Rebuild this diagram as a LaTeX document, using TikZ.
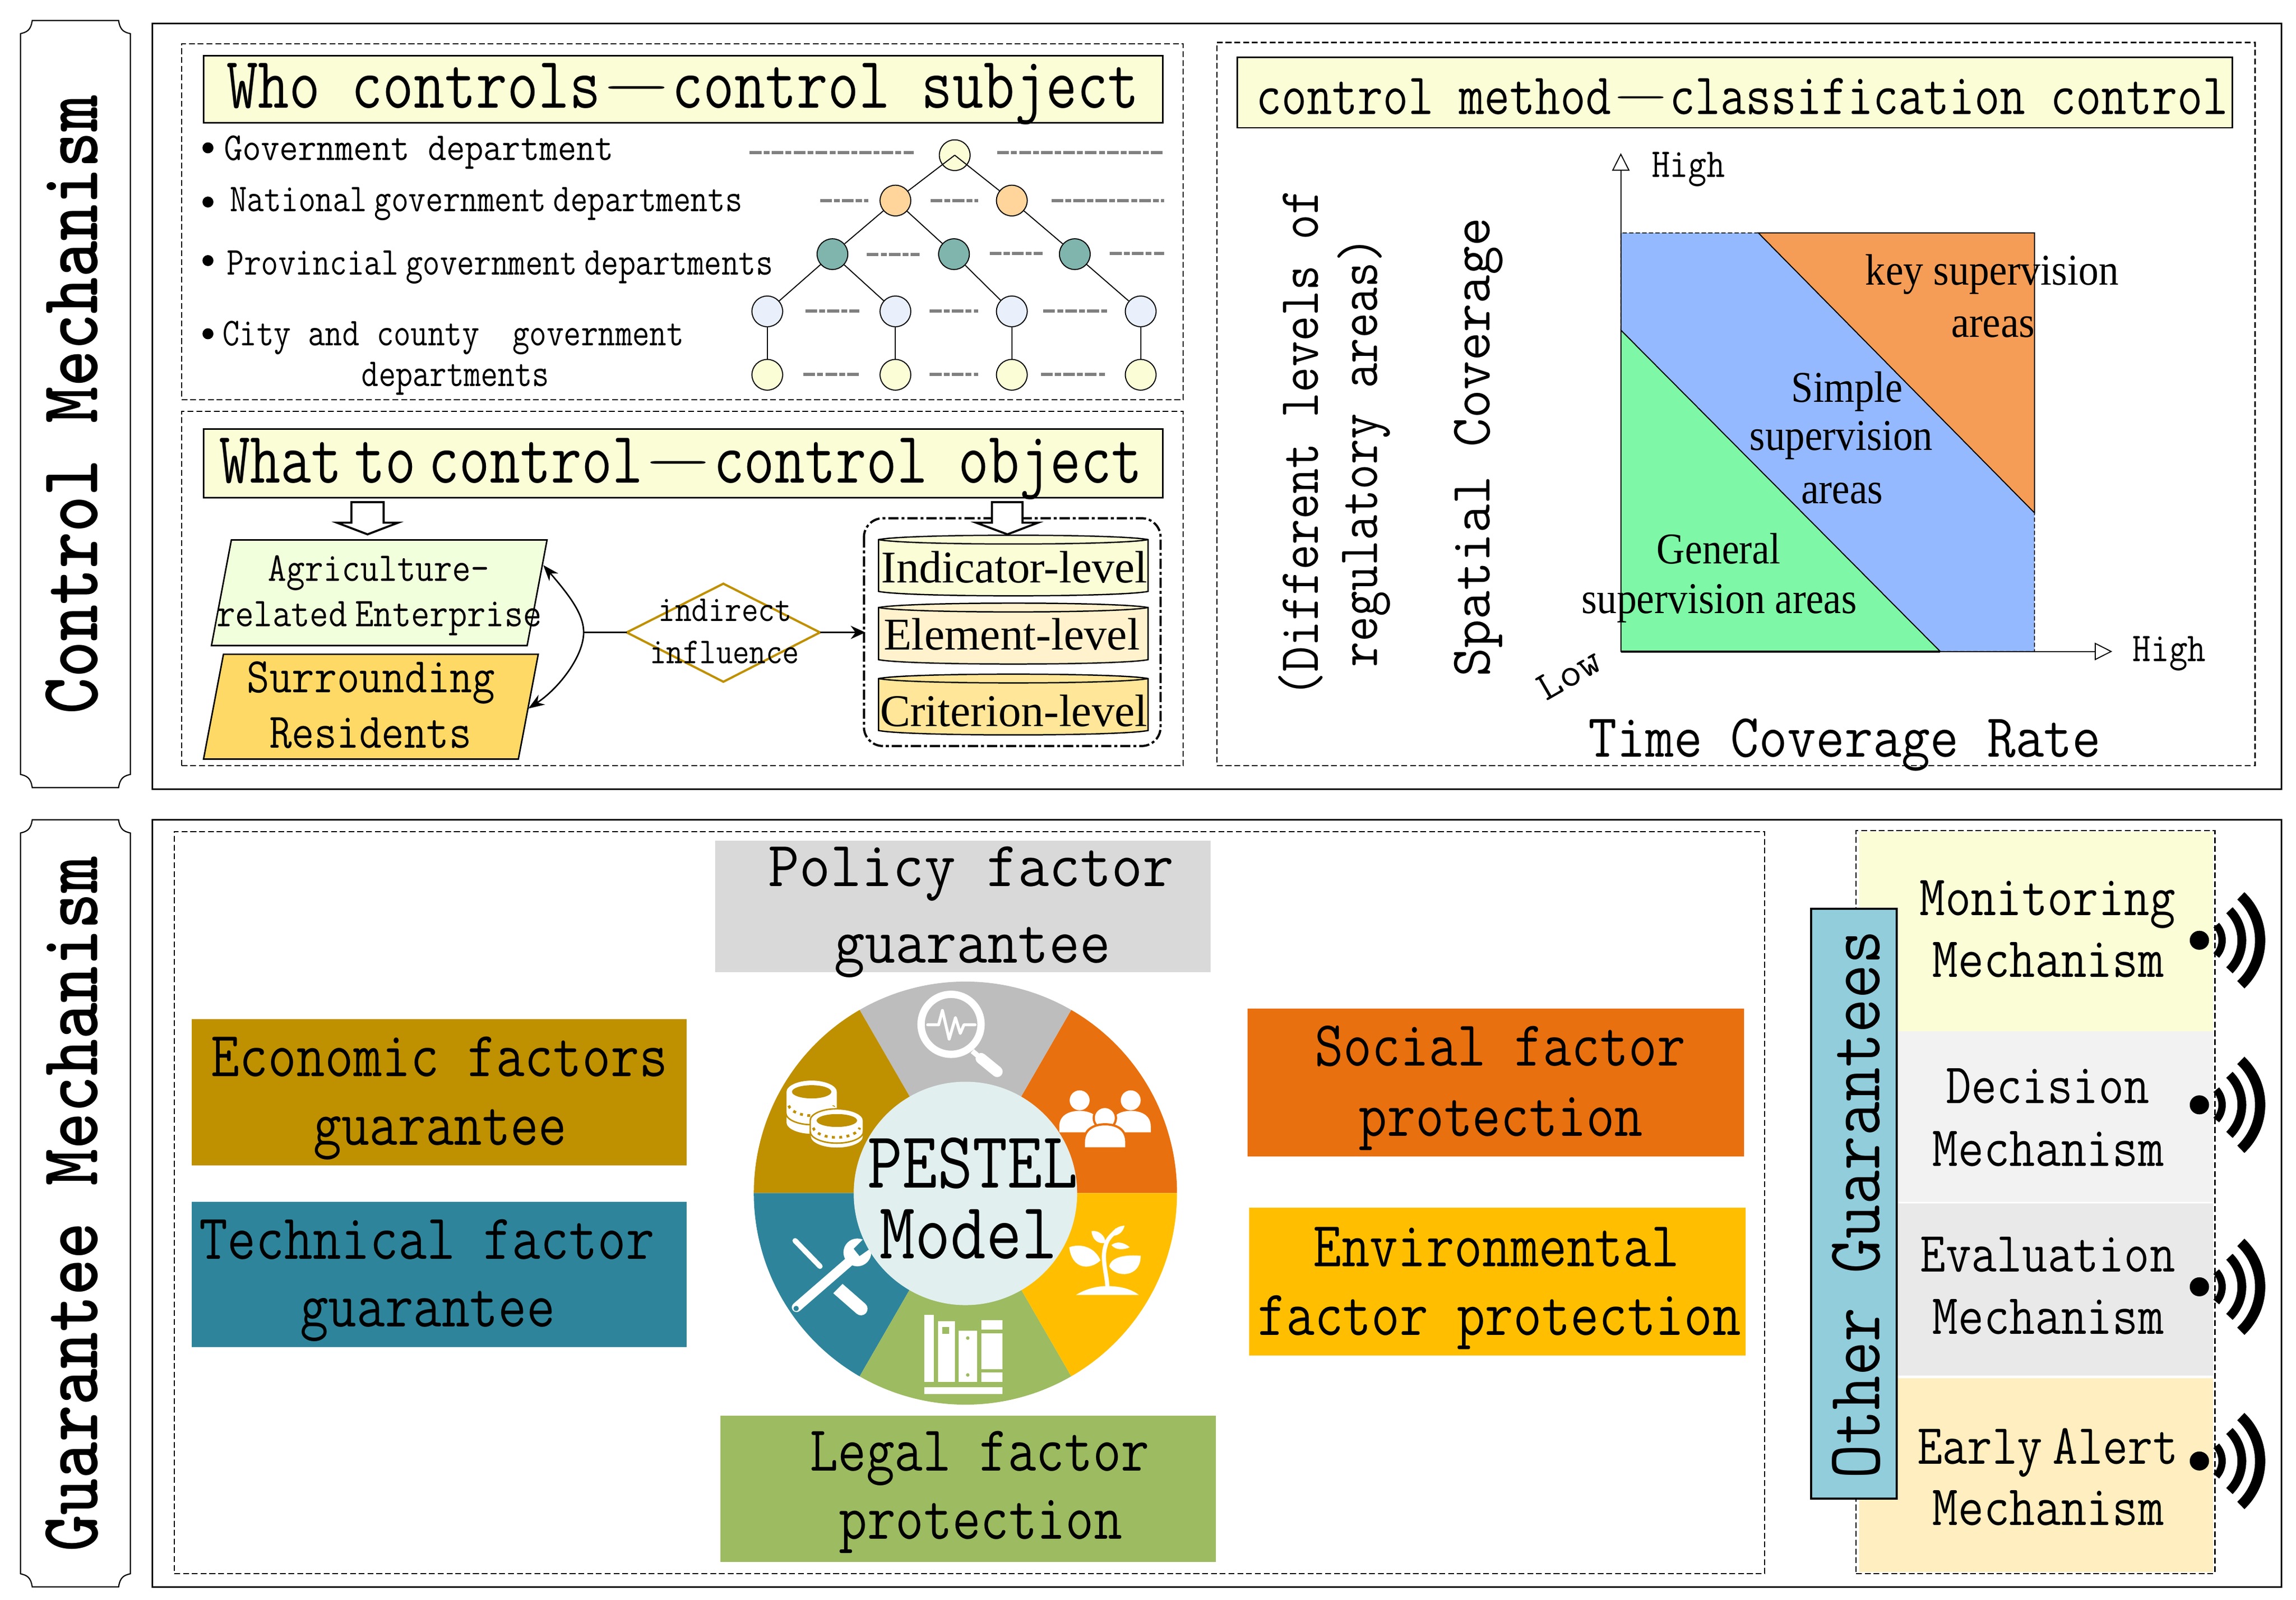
\documentclass[tikz,border=0pt]{standalone}
\usepackage{graphicx}
\usepackage{fontspec}
\newfontfamily\tms{Liberation Serif}
\usetikzlibrary{fit,arrows.meta}
\definecolor{ttl}{HTML}{FBFDD7}
\definecolor{gold}{HTML}{BF9000}
\definecolor{teal2}{HTML}{2E859B}
\definecolor{orng}{HTML}{E9700E}
\definecolor{yel}{HTML}{FFBF00}
\definecolor{grn}{HTML}{9DBB61}
\definecolor{gry}{HTML}{BDBDBD}
\definecolor{inner}{HTML}{E2EFEF}
\definecolor{pgray}{HTML}{D9D9D9}
\definecolor{band2}{HTML}{F2F2F2}
\definecolor{band3}{HTML}{E9E9E9}
\definecolor{band4}{HTML}{FFEEBF}
\definecolor{ogbox}{HTML}{92CDDC}
\definecolor{c2}{HTML}{FFF2CC}
\definecolor{c3}{HTML}{FFE699}
\definecolor{korg}{HTML}{F59D56}
\definecolor{kblu}{HTML}{95B9FF}
\definecolor{kgrn}{HTML}{7EF8A6}
\newcommand\tw[3]{{\fontsize{#2}{#2}\selectfont\resizebox{#1pt}{\height}{\vphantom{Apg}#3}}}
\newcommand\Tx[7][]{\node[lbl,#1] (#2) at (#3,#4) {\tw{#5}{#6}{#7}};}
\newcommand\Bx[6]{\node[fit={(#3,#4)(#5,#6)},inner sep=0pt,#2] (#1) {};}
\newcommand\nsp{\kern-.3em}
\newcommand\lng{\raisebox{.11em}{\scalebox{2.3}[.55]{—}}}
\tikzset{
  lbl/.style={inner sep=0pt,font=\ttfamily},
  tim/.style={inner sep=0pt,font=\tms},
  frame/.style={draw=black,line width=1pt},
  dbox/.style={draw=black,line width=.8pt,dash pattern=on 4pt off 2pt},
  title/.style={draw=black,line width=1pt,fill=ttl},
  treen/.style={circle,draw=black,line width=.7pt,minimum size=21pt,inner sep=0pt},
  link/.style={draw=black,line width=.7pt},
  gdash/.style={draw=black!50,line width=2.2pt,dash pattern=on 8pt off 1.5pt on 4pt off 1.5pt},
  para/.style={draw=black,line width=1pt},
  hollow/.style={draw=black,line width=1.4pt,fill=white,line join=miter},
  cyl/.style={draw=black,line width=.9pt},
  arcs/.style={draw=black},
  axisl/.style={draw=black,line width=.7pt,-{Triangle[open,fill=white,length=12pt,width=12pt]}},
  ico/.style={fill=white,draw=none},
  flat/.style={draw=none}
}
\newcommand\plaque[4]{\draw[black,line width=.8pt,fill=white] (#1+8,#2) -- (#3-8,#2) .. controls (#3-7,#2+7) and (#3-4,#2+8) .. (#3,#2+9) -- (#3,#4-9) .. controls (#3-4,#4-8) and (#3-7,#4-7) .. (#3-8,#4) -- (#1+8,#4) .. controls (#1+7,#4-7) and (#1+4,#4-8) .. (#1,#4-9) -- (#1,#2+9) .. controls (#1+4,#2+8) and (#1+7,#2+7) .. (#1+8,#2) -- cycle;}
\newcommand\cylshape[3]{% ytop ybot fill
  \path[cyl,fill=#3] (600,#1+3) -- (600,#2-3) .. controls (620,#2+1) and (764,#2+1) .. (784,#2-3) -- (784,#1+3) .. controls (764,#1-1) and (620,#1-1) .. (600,#1+3) -- cycle;
  \path[cyl] (600,#1+3) .. controls (620,#1+7) and (764,#1+7) .. (784,#1+3);}
\newcommand\Sec[3]{\fill[#1] (659.3,815) -- ++(#2:144.5) arc[start angle=#2,end angle=#3,radius=144.5] -- cycle;}
\newcommand\dome[5][]{\path[fill=white,#1] ({#2-#3},#5) -- ({#2-#3},{#5-4}) .. controls ({#2-#3},{#4+2}) and ({#2-.4*#3},#4) .. (#2,#4) .. controls ({#2+.4*#3},#4) and ({#2+#3},{#4+2}) .. ({#2+#3},{#5-4}) -- ({#2+#3},#5) -- cycle;}
\newcommand\coins[5]{%
  \path[fill=white,draw=gold,line width=1pt] ({#1-#3},#2) -- ({#1-#3},{#2+#5}) arc[start angle=180,end angle=0,x radius=#3,y radius=#4] -- ({#1+#3},#2) arc[start angle=0,end angle=-180,x radius=#3,y radius=#4] -- cycle;
  \fill[gold] (#1,#2) ellipse[x radius={.76*#3},y radius={.55*#4}];
  \draw[gold,line width=1.8pt,dash pattern=on 2pt off 3pt] ({#1-#3+2},{#2+.45*#5}) arc[start angle=170,end angle=10,x radius={#3-2},y radius=#4];
  \draw[gold,line width=1pt] ({#1-#3},{#2+.68*#5}) arc[start angle=180,end angle=0,x radius=#3,y radius=#4];}
\newcommand\signal[1]{%
  \fill[black] (1502,#1) ellipse[x radius=6.6,y radius=6.5];
  \draw[arcs,line width=5pt] (1502,#1) ++(-42:15.5) arc[start angle=-42,end angle=42,radius=15.5];
  \draw[arcs,line width=6pt] (1502,#1) ++(-45:29) arc[start angle=-45,end angle=45,radius=29];
  \draw[arcs,line width=7pt] (1502,#1) ++(-47:41.5) arc[start angle=-47,end angle=47,radius=41.5];}
\begin{document}
\begin{tikzpicture}[x=1pt,y=-1pt]
\useasboundingbox (0,0) rectangle (1568,1092.6);
\fill[white] (0,0) rectangle (1568,1092.6);

% side plaques and frames
\plaque{14}{14}{89}{538}
\plaque{14}{560}{89}{1084}
\Tx[rotate=90,font=\ttfamily\bfseries]{sideA}{55}{276.5}{423}{57}{Control Mechanism}
\Tx[rotate=90,font=\ttfamily\bfseries]{sideB}{55}{822.5}{475}{57}{Guarantee Mechanism}
\Bx{frameA}{frame}{104}{16}{1558}{539}
\Bx{frameB}{frame}{104}{560}{1558}{1084}

% dashed groups
\Bx{grpA}{dbox}{124}{30}{808}{273}
\Bx{grpB}{dbox}{124}{281}{808}{523}
\Bx{grpC}{dbox}{831}{29}{1540}{523}
\Bx{grpD}{dbox}{119}{568}{1205}{1075}

% ---- who controls
\Bx{ttlA}{title}{139}{38}{794}{84}
\Tx{ttlAt}{466.5}{64}{623}{50}{Who controls\lng control subject}
\foreach \n/\y in {b1/101,b2/138,b3/178,b4/228}{\node[circle,fill=black,minimum size=7.5pt,inner sep=0pt] (\n) at (142,\y) {};}
\Tx{lv1}{286}{104.2}{266}{27}{Government department}
\Tx{lv2}{332}{139.2}{350}{27}{National\nsp{} government\nsp{} departments}
\Tx{lv3}{341.5}{182.3}{373}{27}{Provincial\nsp{} government\nsp{} departments}
\Tx{lv4a}{309.5}{230.8}{315}{27}{City and county\kern1em government}
\Tx{lv4b}{311}{258.6}{128}{27}{departments}

\foreach \a/\b/\y in {512/624/104.3,681/795/104.3,560/593/137,635.5/668/137,718/795/137,592/628/174,676/712/173,758/795/173,550/587/212.5,635/668/212.5,712.5/757/212.5,548.6/587/255.8,635/668/255.8,711/755/255.8}{
  \draw[gdash] (\a,\y) -- (\b,\y);}

\node[treen,fill=ttl] (r1) at (652,106) {};
\foreach \n/\x in {r2a/611.5,r2b/691}{\node[treen,fill={rgb,255:red,255;green,213;blue,155}] (\n) at (\x,137) {};}
\foreach \n/\x in {r3a/568.5,r3b/651.5,r3c/734}{\node[treen,fill={rgb,255:red,127;green,181;blue,173}] (\n) at (\x,173.6) {};}
\foreach \n/\x in {r4a/524,r4b/611.5,r4c/691,r4d/779}{\node[treen,fill={rgb,255:red,233;green,240;blue,251}] (\n) at (\x,212.7) {};}
\foreach \n/\x in {r5a/524,r5b/611.5,r5c/691,r5d/779}{\node[treen,fill=ttl] (\n) at (\x,256) {};}
\draw[link] (r1.center) -- (r2a);
\draw[link] (r1.center) -- (r2b);
\draw[link] (r2a) -- (r3a);
\draw[link] (r2a) -- (r3b);
\draw[link] (r2b) -- (r3c);
\draw[link] (r3a) -- (r4a);
\draw[link] (r3a) -- (r4b);
\draw[link] (r3b) -- (r4c);
\draw[link] (r3c) -- (r4d);
\draw[link] (r4a) -- (r5a);
\draw[link] (r4b) -- (r5b);
\draw[link] (r4c) -- (r5c);
\draw[link] (r4d) -- (r5d);

% ---- what to control
\Bx{ttlB}{title}{139}{293}{794}{340}
\Tx{ttlBt}{465}{320}{630}{50}{What\nsp{} to\nsp{} control\lng control object}

\draw[black,line width=1.5pt,dash pattern=on 7pt off 2pt on 2pt off 2pt,rounded corners=13pt] (590,354) rectangle (792.6,509.6);

\path[para,fill={rgb,255:red,242;green,255;blue,220}] (158,368.8) -- (373.6,368.8) -- (360,441) -- (144.4,441) -- cycle;
\path[para,fill={rgb,255:red,255;green,217;blue,102}] (152.6,446.9) -- (367.6,446.9) -- (354,518.5) -- (139,518.5) -- cycle;
\Tx{ag1}{258.7}{391.5}{151}{28}{Agriculture-}
\Tx{ag2}{259}{422.4}{222}{28}{related\nsp{} Enterprise}
\Tx{sr1}{253.3}{466.4}{169.5}{34}{Surrounding}
\Tx{sr2}{253}{504.2}{138}{34}{Residents}

\path[hollow] (240,343) -- (262,343) -- (262,357) -- (272,357) -- (251,365) -- (230,357) -- (240,357) -- cycle;
\path[hollow] (677.4,343) -- (698.3,343) -- (698.3,357) -- (709,357) -- (688,365) -- (666.5,357) -- (677.4,357) -- cycle;

\cylshape{365.6}{407}{ttl}
\cylshape{412}{453.6}{c2}
\cylshape{460.5}{502}{c3}
\Tx[tim]{cy1}{692.7}{390.8}{181.5}{31}{Indicator-level}
\Tx[tim]{cy2}{691}{436.4}{175}{31}{Element-level}
\Tx[tim]{cy3}{692.2}{488.6}{182.5}{31}{Criterion-level}

\coordinate (pa) at (371,386);
\coordinate (pb) at (360.8,484);
\coordinate (bend) at (398.6,432);
\draw[black,line width=1pt,{Stealth[length=11pt,width=8pt]}-{Stealth[length=11pt,width=8pt]}] (pa) .. controls (390,408) and (398.6,420) .. (bend) .. controls (398.6,448) and (382,470) .. (pb);
\coordinate (dl) at (428,432);
\coordinate (dr) at (560,432);
\coordinate (dt) at (494,398.7);
\coordinate (db) at (494,465.7);
\coordinate (gb) at (591,432);
\draw[gold,line width=1.5pt] (dl) -- (dt) -- (dr) -- (db) -- cycle;
\draw[black,line width=1.3pt] (bend) -- (dl);
\draw[black,line width=1.3pt,-{Stealth[length=10pt,width=9pt]}] (dr) -- (gb);
\Tx{in1}{495.2}{419.4}{91}{25}{indirect}
\Tx{in2}{494.8}{448.4}{102}{25}{influence}

% ---- classification
\Bx{ttlC}{title}{845}{39.2}{1524.5}{87.3}
\Tx{ttlCt}{1189.8}{70}{664}{40}{control method\lng classification control}
\Tx[rotate=90]{r1t}{891}{302.7}{347}{39}{(Different levels of}
\Tx[rotate=90]{r2t}{931.4}{308.7}{294}{39}{regulatory areas)}
\Tx[rotate=90]{r3t}{1009.6}{305.5}{313.6}{39}{Spatial Coverage}

\path[fill=kblu,draw=black,line width=.6pt,dash pattern=on 3pt off 1.5pt] (1106.9,225.5) -- (1106.9,159.1) -- (1200.8,159.1) -- (1389.4,350.3) -- (1389.4,445) -- (1325,445) -- cycle;
\path[fill=korg,draw=black,line width=.7pt] (1200.8,159.1) -- (1389.4,159.1) -- (1389.4,350.3) -- cycle;
\path[fill=kgrn,draw=black,line width=.7pt] (1106.9,225.5) -- (1325,445) -- (1106.9,445) -- cycle;
\coordinate (org) at (1106.9,445);
\coordinate (ytip) at (1106.9,104.6);
\coordinate (xtip) at (1442.5,445);
\draw[axisl] (org) -- (ytip);
\draw[axisl] (org) -- (xtip);
\draw[black,line width=1.4pt] (org) -- (1325,445);
\Tx{hiY}{1153}{115.4}{50}{28}{High}
\Tx{hiX}{1481.5}{446.4}{50}{28}{High}
\Tx[rotate=30]{lowt}{1073}{463}{46}{28}{Low}
\Tx{tcr}{1259.8}{508.7}{350}{42}{Time Coverage Rate}
\Tx[tim]{k1}{1360.5}{187.5}{173}{30}{key supervision}
\Tx[tim]{k2}{1361}{223.5}{57}{30}{areas}
\Tx[tim]{s1}{1261.4}{267.6}{76}{30}{Simple}
\Tx[tim]{s2}{1257.5}{300.9}{125}{30}{supervision}
\Tx[tim]{s3}{1258}{337.1}{56}{30}{areas}
\Tx[tim]{g1}{1173.7}{377.7}{84.5}{30}{General}
\Tx[tim]{g2}{1174}{412.1}{188}{30}{supervision areas}

% ---- PESTEL boxes
\Bx{pol}{flat,fill=pgray}{488.5}{574.2}{826.9}{664}
\Bx{leg}{flat,fill=grn}{492}{967}{830.4}{1067}
\Bx{eco}{flat,fill=gold}{131}{696}{469}{796}
\Bx{tec}{flat,fill=teal2}{131}{821}{469}{920}
\Bx{soc}{flat,fill=orng}{852}{689}{1191}{790}
\Bx{env}{flat,fill=yel}{853}{825}{1192}{926}
\Tx{polt1}{663.2}{596.7}{277}{44}{Policy factor}
\Tx{polt2}{664}{648.9}{188.6}{44}{guarantee}
\Tx{legt1}{669}{995.9}{232}{44}{Legal factor}
\Tx{legt2}{669.7}{1042.6}{193.4}{44}{protection}
\Tx{ecot1}{300}{726.4}{312}{44}{Economic factors}
\Tx{ecot2}{300.5}{773.4}{173}{44}{guarantee}
\Tx{tect1}{291.5}{851.4}{311}{44}{Technical factor}
\Tx{tect2}{292}{897.4}{174}{44}{guarantee}
\Tx{soct1}{1024.5}{719.4}{253}{44}{Social factor}
\Tx{soct2}{1025}{767.4}{194}{44}{protection}
\Tx{envt1}{1022}{856.4}{250}{44}{Environmental}
\Tx{envt2}{1024}{903.4}{330}{44}{factor protection}

% ---- wheel
\Sec{orng}{0}{-60}
\Sec{gry}{-60}{-120}
\Sec{gold}{-120}{-180}
\Sec{teal2}{-180}{-240}
\Sec{grn}{-240}{-300}
\Sec{yel}{-300}{-360}

% magnifier
\draw[white,line width=5pt] (649.5,699.7) circle[radius=20.5];
\draw[white,line width=3.5pt] (664,718) -- (670,723);
\draw[white,line width=7.5pt,line cap=round] (670,723) -- (681,732);
\draw[white,line width=2pt,line join=round,line cap=round] (633.5,700) -- (641,700) -- (643.6,690.2) -- (648.2,709.8) -- (652.5,695.1) -- (655.8,705.9) -- (658.3,700) -- (665.9,700);
% people
\fill[white] (737.3,751.6) circle[radius=6.8];
\fill[white] (772.2,751.6) circle[radius=6.8];
\dome{737.2}{13.8}{758.8}{773.5}
\dome{772.3}{13.6}{758.8}{773.5}
\path[fill=white,draw=orng,line width=1.5pt] (754.5,763.7) circle[radius=7.6];
\dome[draw=orng,line width=1.5pt]{754.7}{14.5}{768}{784.4}
% coins
\coins{554.3}{745.8}{17.7}{8.2}{21}
\coins{571.5}{765.4}{18.2}{8}{11}
% tools
\draw[white,line width=3.6pt,line cap=round] (543,847.5) -- (560,865);
\draw[white,line width=9pt,line cap=round] (572,880) -- (588,894);
\draw[teal2,line width=9pt] (560,886) -- (576,870);
\draw[white,line width=6.5pt,line cap=round] (544,893) -- (582,860);
\fill[white] (585.5,855.5) circle[radius=9.5];
\fill[teal2] (590,846) -- (597,851) -- (587,858) -- (583,853) -- cycle;
\fill[teal2] (543.7,893.8) circle[radius=1.8];
% sprout
\fill[white] (734.8,884.6) .. controls (742,880) and (750,878.5) .. (756,878.5) .. controls (764,878.5) and (772,880) .. (777.8,884.6) -- cycle;
\draw[white,line width=2.8pt] (756.3,880) .. controls (756,870) and (752,860) .. (755,851) .. controls (756,846) and (760,843) .. (763,840);
\fill[white] (730.2,852) .. controls (738,849) and (748,852) .. (751.5,861) .. controls (744,868) and (732,867) .. (730.2,852) -- cycle;
\fill[white] (779,857.8) .. controls (770,857) and (759,858) .. (757.5,865) .. controls (762,873) and (779,873) .. (779,857.8) -- cycle;
\fill[white] (745.4,841) .. controls (750,840) and (755,844) .. (755,849) .. controls (750,850) and (746,847) .. (745.4,841) -- cycle;
\fill[white] (771.5,852) .. controls (767,848) and (762,848) .. (759,850.5) .. controls (762,854) and (767,854) .. (771.5,852) -- cycle;
\fill[white] (768,837.2) .. controls (763,837.5) and (760,840) .. (759.5,844) .. controls (763,844.5) and (767,842) .. (768,837.2) -- cycle;
% books
\fill[white] (631.2,947.6) rectangle (684.6,952.2);
\fill[white] (631.2,898.3) rectangle (637.8,944);
\fill[white] (640.6,902.6) rectangle (652.2,944);
\fill[grn] (643.6,906.5) rectangle (648.2,911.1);
\fill[white] (654.5,909.1) rectangle (667.4,944);
\fill[grn] (660.9,914) circle[radius=1.2];
\fill[grn] (660.9,939.2) circle[radius=1.2];
\fill[white] (670.2,901.6) rectangle (684.6,944);
\fill[grn] (670.2,908.4) rectangle (684.6,910.8);
\fill[grn] (670.2,935.2) rectangle (684.6,937.5);

\node[circle,fill=inner,minimum size=152.6pt,inner sep=0pt] (hub) at (659.3,815.2) {};
\Tx{hub1}{664.2}{800.4}{143.5}{55}{PESTEL}
\Tx{hub2}{661.3}{848.7}{121.4}{55}{Model}

% ---- other guarantees
\Bx{m1}{flat,fill=ttl}{1269.7}{568}{1511.3}{704.3}
\Bx{m2}{flat,fill=band2}{1269.7}{704.3}{1511.3}{821}
\Bx{m3}{flat,fill=band3}{1269.7}{822}{1511.3}{939.6}
\Bx{m4}{flat,fill=band4}{1269.7}{941.3}{1511.3}{1073.7}
\Bx{grpE}{dbox}{1267.5}{567.4}{1512.6}{1074.8}
\Bx{ogb}{draw=black,line width=1.5pt,fill=ogbox}{1237}{620.9}{1295.3}{1023.7}
\Tx[rotate=90]{ogt}{1273.3}{822.8}{375}{52}{Other Guarantees}
\Tx{m1a}{1398.3}{617.7}{174.5}{39}{Monitoring}
\Tx{m1b}{1398.8}{659.6}{158}{39}{Mechanism}
\Tx{m2a}{1398.4}{746.1}{138.8}{39}{Decision}
\Tx{m2b}{1398.8}{789}{158}{39}{Mechanism}
\Tx{m3a}{1398.5}{861.2}{174}{39}{Evaluation}
\Tx{m3b}{1398.8}{903.7}{158}{39}{Mechanism}
\Tx{m4a}{1398.4}{992.3}{178}{39}{Early\nsp{} Alert}
\Tx{m4b}{1398.8}{1034.1}{158}{39}{Mechanism}
\signal{642.3}
\signal{754.7}
\signal{879}
\signal{998}
\end{tikzpicture}
\end{document}
